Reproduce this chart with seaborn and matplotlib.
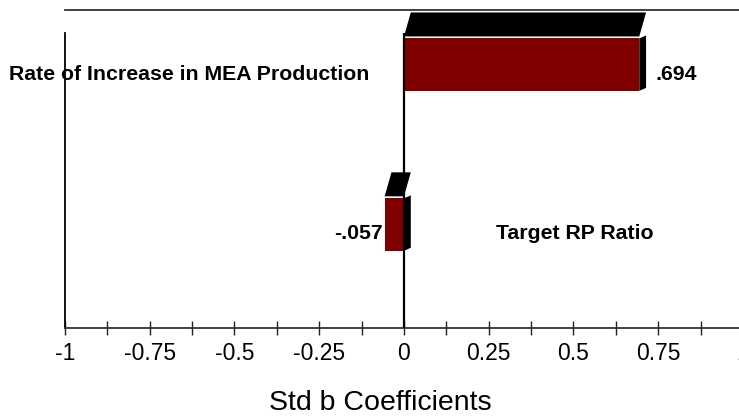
"""
Standardised regression coefficients, drawn as pseudo-3D horizontal bars.
"""
import numpy as np
import pandas as pd
import matplotlib
matplotlib.use("Agg")
import matplotlib.pyplot as plt
from matplotlib.patches import Polygon
from matplotlib.ticker import MultipleLocator
import seaborn as sns

# ---- data ----
terms = ["Rate of Increase in MEA Production", "Target RP Ratio"]
coefs = [0.694, -0.057]
coef_labels = [".694", "-.057"]
tick_values = [-1, -0.75, -0.5, -0.25, 0, 0.25, 0.5, 0.75, 1]
tick_labels = ["-1", "-0.75", "-0.5", "-0.25", "0", "0.25", "0.5", "0.75", "1"]

sns.set_theme(style="white")
plt.rcParams["font.family"] = ["Liberation Sans", "DejaVu Sans"]
plt.rcParams["text.color"] = "black"
plt.rcParams["xtick.color"] = "black"
plt.rcParams["xtick.labelcolor"] = "black"

W, H = 739, 416
fig = plt.figure(figsize=(W / 100, H / 100), dpi=100)
# axes box in pixels: x 65..743, y 10..328 (the right end runs off the canvas)
ax = fig.add_axes([65 / W, (H - 328) / H, 678 / W, 318 / H])

df = pd.DataFrame({"term": terms, "coef": coefs})
BAR_W = 0.328
sns.barplot(data=df, x="coef", y="term", orient="h", color="#800000",
            saturation=1, width=BAR_W, edgecolor="none", ax=ax)

ax.set_xlim(-1, 1)
ax.set_ylim(1.647, -0.342)

# pixel -> data scale, used for the fake depth faces
PX_X = 678 / 2.0
PX_Y = 318 / (1.647 + 0.342)
dx = 6.8 / PX_X
dy_top = 24 / PX_Y
gap = 2 / PX_Y
dy_side = 3 / PX_Y

for i, v in enumerate(coefs):
    x0, x1 = min(0, v), max(0, v)
    yt, yb = i - BAR_W / 2, i + BAR_W / 2
    top = Polygon([(x0, yt - gap), (x1, yt - gap),
                   (x1 + dx, yt - gap - dy_top), (x0 + dx, yt - gap - dy_top)],
                  closed=True, facecolor="black", edgecolor="none", zorder=3)
    side = Polygon([(x1, yt), (x1 + dx, yt - dy_side),
                    (x1 + dx, yb - dy_side), (x1, yb)],
                   closed=True, facecolor="black", edgecolor="none", zorder=3)
    ax.add_patch(top)
    ax.add_patch(side)

# zero line
y_line_top = -0.198
ax.vlines(0, y_line_top, 1.647, color="black", lw=1.6, zorder=4)

# labels on the bars
lab_kw = dict(fontsize=15.3, fontweight="bold", color="black", va="center")
ax.text(coefs[0] + 0.049, 0.06, coef_labels[0], ha="left", **lab_kw)
ax.text(-0.103, 0.06, terms[0], ha="right", clip_on=False, **lab_kw)
ax.text(coefs[1] - 0.005, 1.055, coef_labels[1], ha="right", **lab_kw)
ax.text(0.271, 1.055, terms[1], ha="left", **lab_kw)

# axes styling
ax.set_yticks([])
ax.set_ylabel("")
ax.set_xlabel("")
ax.set_xticks(tick_values)
ax.set_xticklabels(tick_labels)
ax.xaxis.set_minor_locator(MultipleLocator(0.125))
ax.tick_params(axis="x", which="both", direction="inout", length=9.5, width=1,
               color="#222222", labelcolor="black", bottom=True,
               labelsize=16.5, pad=5.5)
for side_name in ["top", "bottom", "left"]:
    ax.spines[side_name].set_visible(True)
    ax.spines[side_name].set_linewidth(1.3)
ax.spines["right"].set_visible(False)
ax.spines["top"].set_color("#333333")
ax.spines["bottom"].set_color("#333333")
ax.spines["left"].set_color("black")
ax.spines["left"].set_bounds(y_line_top, 1.647)
ax.grid(False)

fig.text(380 / W, 1 - 403 / H, "Std b Coefficients", fontsize=20.5,
         color="black", ha="center", va="center")

fig.savefig("out.png", dpi=100)
